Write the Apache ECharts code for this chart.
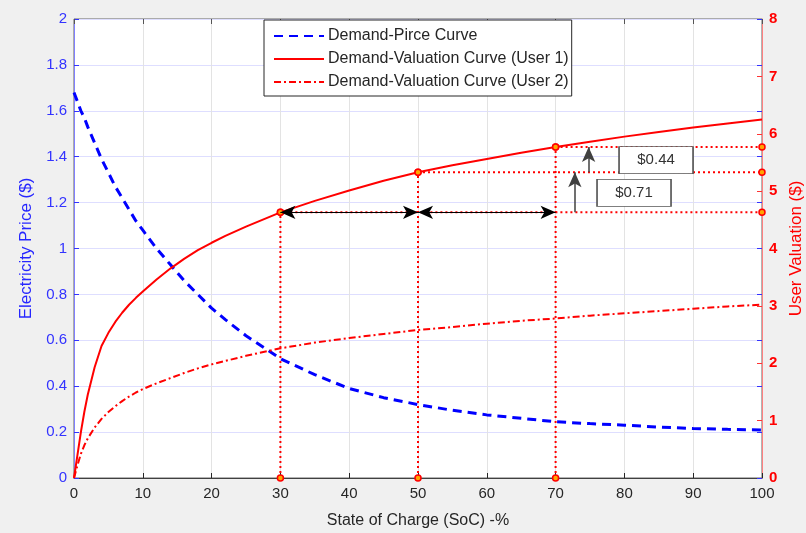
<!DOCTYPE html>
<html>
<head>
<meta charset="utf-8">
<script src="https://cdn.jsdelivr.net/npm/echarts@6/dist/echarts.min.js"></script>
<style>
  html, body { margin: 0; padding: 0; background: #f0f0f0; }
  #chart { width: 806px; height: 533px; }
</style>
</head>
<body>
<div id="chart"></div>
<script>
// State of charge samples (%)
const soc = [0, 0.5, 1, 1.5, 2, 3, 4, 5, 6, 7, 8, 9, 10, 12, 14, 16, 18, 20, 22, 25,
  30, 35, 40, 45, 50, 55, 60, 65, 70, 75, 80, 85, 90, 95, 100]
// Demand-price curve (left axis, $)
const priceVals = [1.68, 1.64, 1.60, 1.57, 1.53, 1.46, 1.39, 1.33, 1.27, 1.22, 1.17, 1.12, 1.08, 1.00, 0.93, 0.86, 0.80, 0.74, 0.69, 0.62,
  0.52, 0.45, 0.39, 0.35, 0.32, 0.295, 0.275, 0.26, 0.245, 0.237, 0.23, 0.222, 0.216, 0.212, 0.209]
// Demand-valuation curves (right axis, $)
const user1Vals = [0, 0.4, 0.8, 1.15, 1.45, 1.93, 2.3, 2.53, 2.72, 2.88, 3.02, 3.14, 3.25, 3.46, 3.65, 3.82, 3.97, 4.10, 4.22, 4.38,
  4.63, 4.83, 5.01, 5.18, 5.33, 5.45, 5.56, 5.67, 5.77, 5.86, 5.95, 6.03, 6.11, 6.18, 6.25]
const user2Vals = [0, 0.22, 0.42, 0.57, 0.69, 0.88, 1.03, 1.15, 1.25, 1.34, 1.42, 1.49, 1.55, 1.65, 1.74, 1.83, 1.91, 1.98, 2.04, 2.13,
  2.26, 2.36, 2.44, 2.51, 2.58, 2.63, 2.69, 2.74, 2.78, 2.83, 2.87, 2.91, 2.95, 2.99, 3.02]

// guide points on User 1 curve
const markSoc = [30, 50, 70]
const markVal = [4.63, 5.33, 5.77]
// vertical gain arrows and their boxes
const gainSoc = [72.8, 74.8]
const gainLabels = ['$0.71', '$0.44']
const gainBoxSoc = [81.4, 84.6]
const gainBoxVal = [4.97, 5.54]

const legendNames = ['Demand-Pirce Curve', 'Demand-Valuation Curve (User 1)', 'Demand-Valuation Curve (User 2)']

const font = 'Liberation Sans, Arial, Helvetica, sans-serif'
const pair = (xs, ys) => xs.map((x, i) => [x, ys[i]])

const dotStyle = { color: '#ff0000', width: 2, type: [2, 3] }
const markerStyle = { color: '#ffa500', borderColor: '#ff0000', borderWidth: 1.5 }

const guideSeries = []
markSoc.forEach((s, i) => {
  guideSeries.push({
    type: 'line', yAxisIndex: 1, silent: true, z: 4,
    data: [[s, 0], [s, markVal[i]]],
    symbol: 'circle', symbolSize: 6, showSymbol: true,
    lineStyle: dotStyle, itemStyle: markerStyle
  })
  guideSeries.push({
    type: 'line', yAxisIndex: 1, silent: true, z: 4,
    data: [[s, markVal[i]], [100, markVal[i]]],
    symbol: 'circle', symbolSize: 6, showSymbol: true,
    lineStyle: dotStyle, itemStyle: markerStyle
  })
})

const arrowLines = [
  [{ coord: [markSoc[0], markVal[0]] }, { coord: [markSoc[1], markVal[0]] }],
  [{ coord: [markSoc[1], markVal[0]] }, { coord: [markSoc[2], markVal[0]] }]
]
const upLines = [
  [{ coord: [gainSoc[0], markVal[0]], symbol: 'none' }, { coord: [gainSoc[0], markVal[1]] }],
  [{ coord: [gainSoc[1], markVal[1]], symbol: 'none' }, { coord: [gainSoc[1], markVal[2]] }]
]

const chart = echarts.init(document.getElementById('chart'))
chart.setOption({
  backgroundColor: '#f0f0f0',
  animation: false,
  textStyle: { fontFamily: font },
  grid: {
    left: 74, right: 44, top: 19, bottom: 55,
    outerBoundsMode: 'none',
    show: true, backgroundColor: '#ffffff', borderColor: '#666666', borderWidth: 1
  },
  legend: {
    data: legendNames,
    orient: 'vertical',
    left: 264, top: 20,
    itemWidth: 50, itemHeight: 14, itemGap: 7,
    padding: [8, 3, 6, 9],
    backgroundColor: '#ffffff',
    borderColor: '#262626', borderWidth: 1, borderRadius: 0,
    itemStyle: { opacity: 0 },
    textStyle: { fontSize: 16, color: '#262626', fontFamily: font, padding: [0, 0, 0, -1] }
  },
  xAxis: [{
    type: 'value', min: 0, max: 100, interval: 10,
    name: 'State of Charge (SoC) -%', nameLocation: 'middle', nameGap: 35,
    nameTextStyle: { fontSize: 16, color: '#262626' },
    axisLine: { onZero: false, lineStyle: { color: '#404040' } },
    axisTick: { inside: true, length: 5, lineStyle: { color: '#262626' } },
    axisLabel: { fontSize: 15, color: '#262626', margin: 8 },
    splitLine: { show: true, lineStyle: { color: '#e3e3e3' } }
  }, {
    type: 'value', min: 0, max: 100, interval: 10, position: 'top',
    axisLine: { show: false, onZero: false },
    axisTick: { inside: true, length: 5, lineStyle: { color: '#555555' } },
    axisLabel: { show: false }, splitLine: { show: false }
  }],
  yAxis: [{
    type: 'value', min: 0, max: 2, interval: 0.2,
    name: 'Electricity Price ($)', nameLocation: 'middle', nameGap: 32,
    nameTextStyle: { fontSize: 17, color: '#2626ff' },
    axisLine: { show: true, onZero: false, lineStyle: { color: '#8080ff' } },
    axisTick: { show: true, inside: true, length: 5, lineStyle: { color: '#3333ff' } },
    axisLabel: { fontSize: 15, color: '#3333ff', margin: 7 },
    splitLine: { show: true, lineStyle: { color: '#dedeff' } }
  }, {
    type: 'value', min: 0, max: 8, interval: 1, position: 'right',
    name: 'User Valuation ($)', nameLocation: 'middle', nameGap: 22,
    nameTextStyle: { fontSize: 17, color: '#ff0000' },
    axisLine: { show: true, onZero: false, lineStyle: { color: '#ff8080' } },
    axisTick: { show: true, inside: true, length: 5, lineStyle: { color: '#ff3333' } },
    axisLabel: { fontSize: 15, color: '#ff0000', fontWeight: 'bold', margin: 7 },
    splitLine: { show: false }
  }, {
    // mirror of the left axis ticks on the right edge
    type: 'value', min: 0, max: 2, interval: 0.2, position: 'right',
    axisLine: { show: false, onZero: false },
    axisTick: { show: true, inside: true, length: 5, lineStyle: { color: '#3333ff' } },
    axisLabel: { show: false }, splitLine: { show: false }
  }],
  series: [{
    name: legendNames[0], type: 'line', yAxisIndex: 0, z: 3,
    data: pair(soc, priceVals), symbol: 'none',
    lineStyle: { color: '#0000ff', width: 3, type: [9, 6] },
    itemStyle: { color: '#0000ff' }
  }, {
    name: legendNames[1], type: 'line', yAxisIndex: 1, z: 3,
    data: pair(soc, user1Vals), symbol: 'none',
    lineStyle: { color: '#ff0000', width: 2 },
    itemStyle: { color: '#ff0000' }
  }, {
    name: legendNames[2], type: 'line', yAxisIndex: 1, z: 3,
    data: pair(soc, user2Vals), symbol: 'none',
    lineStyle: { color: '#ff0000', width: 2, type: [7, 3, 2, 3] },
    itemStyle: { color: '#ff0000' }
  },
  ...guideSeries,
  {
    type: 'line', yAxisIndex: 1, data: [], silent: true, z: 6,
    markLine: {
      silent: true, animation: false,
      symbol: ['arrow', 'arrow'], symbolSize: [10, 15],
      label: { show: false },
      lineStyle: { color: '#000000', width: 1, type: 'solid' },
      emphasis: { disabled: true },
      data: arrowLines
    }
  }, {
    type: 'line', yAxisIndex: 1, data: [], silent: true, z: 6,
    markLine: {
      silent: true, animation: false,
      symbol: ['none', 'arrow'], symbolSize: [10, 15],
      label: { show: false },
      lineStyle: { color: '#404040', width: 1.5, type: 'solid' },
      emphasis: { disabled: true },
      data: upLines
    },
    markPoint: {
      silent: true, animation: false,
      symbol: 'rect', symbolSize: [74, 27],
      itemStyle: { color: '#ffffff', borderColor: '#555555', borderWidth: 1 },
      label: { show: true, formatter: '{b}', color: '#333333', fontSize: 15, fontFamily: font },
      data: gainLabels.map((t, i) => ({ name: t, coord: [gainBoxSoc[i], gainBoxVal[i]] }))
    }
  }]
})
</script>
</body>
</html>
